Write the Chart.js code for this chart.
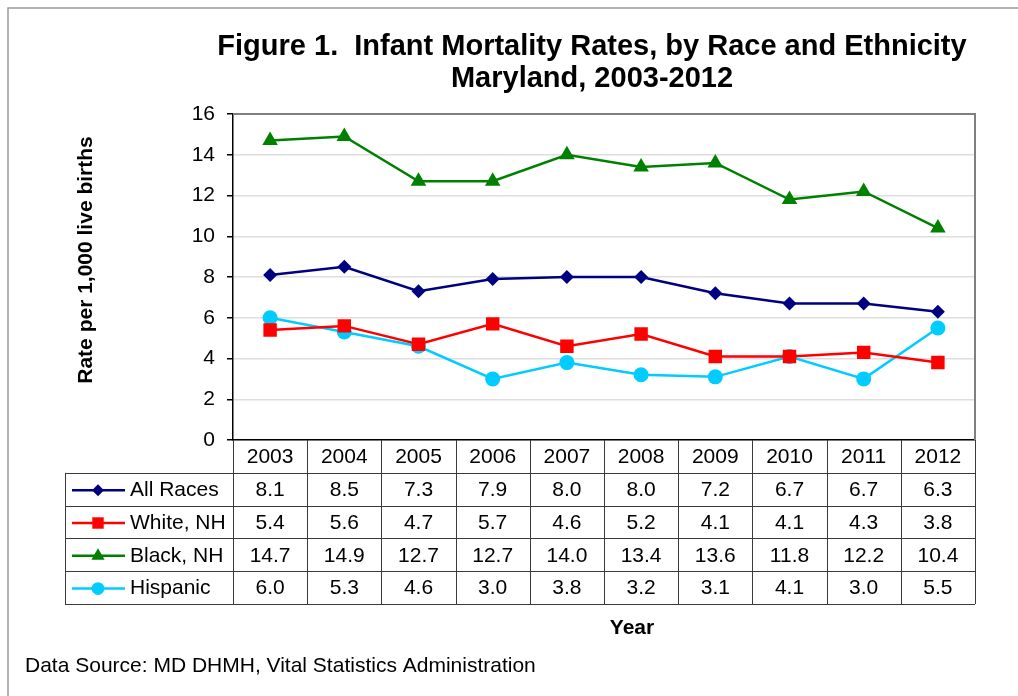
<!DOCTYPE html>
<html>
<head>
<meta charset="utf-8">
<script src="https://cdn.jsdelivr.net/npm/chart.js@4.4.0/dist/chart.umd.min.js"></script>
<style>
  html, body { margin: 0; padding: 0; background: #fff; }
  #wrap { width: 1018px; height: 696px; }
</style>
</head>
<body>
<div id="wrap"><canvas id="chart" width="1018" height="696"></canvas></div>
<script>
// data
const years = ['2003', '2004', '2005', '2006', '2007', '2008', '2009', '2010', '2011', '2012'];
const allRaces = [8.1, 8.5, 7.3, 7.9, 8.0, 8.0, 7.2, 6.7, 6.7, 6.3];
const whiteNH = [5.4, 5.6, 4.7, 5.7, 4.6, 5.2, 4.1, 4.1, 4.3, 3.8];
const blackNH = [14.7, 14.9, 12.7, 12.7, 14.0, 13.4, 13.6, 11.8, 12.2, 10.4];
const hispanic = [6.0, 5.3, 4.6, 3.0, 3.8, 3.2, 3.1, 4.1, 3.0, 5.5];
const yTicks = [0, 2, 4, 6, 8, 10, 12, 14, 16];

const FONT = '"Liberation Sans", Arial, sans-serif';

const series = [
    { label: 'All Races', data: allRaces, color: '#000080', style: 'rectRot', radius: 7 },
    { label: 'White, NH', data: whiteNH, color: '#ff0000', style: 'rect', radius: 9.5 },
    { label: 'Black, NH', data: blackNH, color: '#008000', style: 'triangle', radius: 9 },
    { label: 'Hispanic', data: hispanic, color: '#00ccff', style: 'circle', radius: 7.5 }
];

// draws frame, titles, the data table and the notes
const decorations = {
    id: 'decorations',
    afterDraw(chart) {
        const ctx = chart.ctx;
        const area = chart.chartArea;
        const x = chart.scales.x;
        const n = years.length;
        const colW = (area.right - area.left) / n;
        const rowH = 32.8;
        const tableLeft = 65;

        ctx.save();

        // outer frame
        ctx.strokeStyle = '#9a9a9a';
        ctx.lineWidth = 1.5;
        ctx.strokeRect(8, 8, 1030, 700);

        // plot top/right border
        ctx.strokeStyle = '#808080';
        ctx.lineWidth = 2;
        ctx.beginPath();
        ctx.moveTo(area.left, area.top);
        ctx.lineTo(area.right, area.top);
        ctx.lineTo(area.right, area.bottom);
        ctx.stroke();

        // title
        ctx.fillStyle = '#000';
        ctx.textAlign = 'center';
        ctx.textBaseline = 'middle';
        ctx.font = 'bold 29px ' + FONT;
        ctx.fillText('Figure 1.  Infant Mortality Rates, by Race and Ethnicity', 592, 47);
        ctx.fillText('Maryland, 2003-2012', 592, 79);

        // y title
        ctx.save();
        ctx.translate(86, 260);
        ctx.rotate(-Math.PI / 2);
        ctx.font = 'bold 21px ' + FONT;
        ctx.fillText('Rate per 1,000 live births', 0, 0);
        ctx.restore();

        // table grid
        const top = area.bottom;
        const bottom = top + rowH * (series.length + 1);
        ctx.strokeStyle = '#3a3a3a';
        ctx.lineWidth = 1;
        ctx.beginPath();
        for (let i = 0; i <= n; i++) {
            const cx = Math.round(area.left + i * colW) + 0.5;
            ctx.moveTo(cx, top);
            ctx.lineTo(cx, bottom);
        }
        ctx.moveTo(tableLeft + 0.5, top + rowH);
        ctx.lineTo(tableLeft + 0.5, bottom);
        for (let r = 1; r <= series.length + 1; r++) {
            const cy = Math.round(top + r * rowH) + 0.5;
            ctx.moveTo(tableLeft, cy);
            ctx.lineTo(area.right, cy);
        }
        ctx.stroke();

        // header years
        ctx.font = '21px ' + FONT;
        ctx.textAlign = 'center';
        years.forEach((y, i) => {
            ctx.fillText(y, x.getPixelForValue(i), top + rowH / 2 + 1);
        });

        // series rows
        series.forEach((s, r) => {
            const cy = top + rowH * (r + 1.5) + 1;
            ctx.strokeStyle = s.color;
            ctx.lineWidth = 2.5;
            ctx.beginPath();
            ctx.moveTo(72, cy);
            ctx.lineTo(125, cy);
            ctx.stroke();
            ctx.fillStyle = s.color;
            Chart.helpers.drawPoint(ctx, { pointStyle: s.style, radius: s.radius * 0.85, rotation: 0, borderWidth: 0 }, 98, cy);
            ctx.fillStyle = '#000';
            ctx.textAlign = 'left';
            ctx.fillText(s.label, 130, cy);
            ctx.textAlign = 'center';
            s.data.forEach((v, i) => {
                ctx.fillText(v.toFixed(1), x.getPixelForValue(i), cy);
            });
        });

        // x title and source
        ctx.font = 'bold 21px ' + FONT;
        ctx.fillText('Year', 632, 628);
        ctx.font = '21px ' + FONT;
        ctx.textAlign = 'left';
        ctx.fillText('Data Source: MD DHMH, Vital Statistics Administration', 25, 666);

        ctx.restore();
    }
};

new Chart(document.getElementById('chart'), {
    type: 'line',
    data: {
        labels: years,
        datasets: series.map(s => ({
            label: s.label,
            data: s.data,
            borderColor: s.color,
            backgroundColor: s.color,
            borderWidth: 2.5,
            pointStyle: s.style,
            pointRadius: s.radius,
            pointHoverRadius: s.radius,
            pointBorderWidth: 0,
            tension: 0
        }))
    },
    options: {
        responsive: false,
        animation: false,
        layout: { padding: { left: 0, top: 114, right: 43, bottom: 256 } },
        plugins: {
            legend: { display: false },
            tooltip: { enabled: false }
        },
        scales: {
            x: {
                offset: true,
                grid: { display: false, drawTicks: false },
                border: { display: true, color: '#000', width: 1.5 },
                ticks: { display: false },
                afterFit: s => { s.height = 0; }
            },
            y: {
                min: 0,
                max: 16,
                afterBuildTicks: s => { s.ticks = yTicks.map(v => ({ value: v })); },
                afterFit: s => { s.width = 233; },
                grid: { color: '#dedede', lineWidth: 1.5, tickLength: 6, tickColor: '#000' },
                border: { display: true, color: '#000', width: 1.5 },
                ticks: {
                    color: '#000',
                    padding: 12,
                    font: { family: FONT, size: 21 }
                }
            }
        }
    },
    plugins: [decorations]
});
</script>
</body>
</html>
